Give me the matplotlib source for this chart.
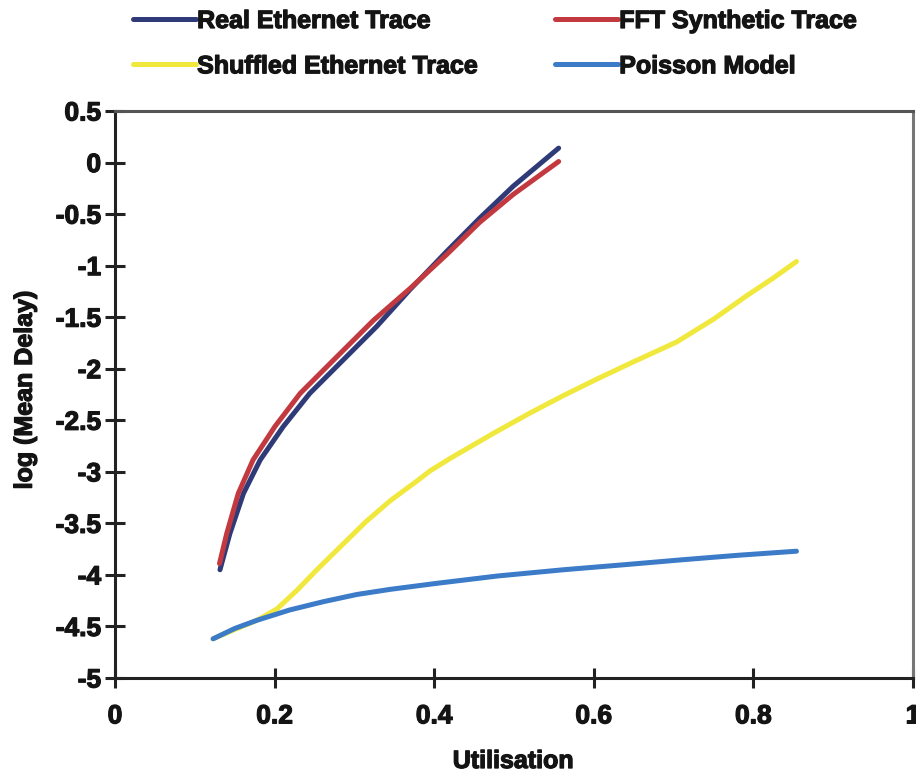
import matplotlib
matplotlib.use("Agg")
import matplotlib.pyplot as plt
import matplotlib.patheffects as pe

# utilisation vs log mean delay for each traffic source
real_x = [0.1316, 0.144, 0.161, 0.182, 0.211, 0.244, 0.286, 0.328, 0.370, 0.416, 0.457, 0.499, 0.556]
real_y = [-3.95, -3.60, -3.21, -2.885, -2.56, -2.24, -1.915, -1.59, -1.23, -0.86, -0.54, -0.23, 0.14]

fft_x = [0.131, 0.140, 0.1545, 0.173, 0.2005, 0.232, 0.274, 0.324, 0.370, 0.416, 0.457, 0.499, 0.556]
fft_y = [-3.89, -3.60, -3.21, -2.885, -2.56, -2.24, -1.915, -1.53, -1.22, -0.89, -0.58, -0.31, 0.01]

shuf_x = [0.123, 0.150, 0.178, 0.203, 0.228, 0.253, 0.282, 0.315, 0.345, 0.380, 0.395,
          0.420, 0.478, 0.520, 0.562, 0.604, 0.645, 0.704, 0.750, 0.792, 0.825, 0.854]
shuf_y = [-4.62, -4.53, -4.44, -4.33, -4.15, -3.95, -3.73, -3.48, -3.28, -3.08, -2.99,
          -2.87, -2.61, -2.43, -2.26, -2.10, -1.95, -1.74, -1.52, -1.29, -1.12, -0.96]

pois_x = [0.123, 0.150, 0.178, 0.219, 0.261, 0.303, 0.345, 0.405, 0.480, 0.562, 0.640, 0.708, 0.780, 0.854]
pois_y = [-4.62, -4.52, -4.44, -4.34, -4.26, -4.19, -4.14, -4.08, -4.01, -3.95, -3.90, -3.855, -3.81, -3.77]

labels = ["Real Ethernet Trace", "FFT Synthetic Trace", "Shuffled Ethernet Trace", "Poisson Model"]
colors = ["#2f3b78", "#c23a3f", "#f0e83c", "#3c7bc8"]

xticks = [0, 0.2, 0.4, 0.6, 0.8, 1]
xticklabels = ["0", "0.2", "0.4", "0.6", "0.8", "1"]
yticks = [0.5, 0, -0.5, -1, -1.5, -2, -2.5, -3, -3.5, -4, -4.5, -5]
yticklabels = ["0.5", "0", "-0.5", "-1", "-1.5", "-2", "-2.5", "-3", "-3.5", "-4", "-4.5", "-5"]

plt.rcParams["font.family"] = ["Liberation Sans", "DejaVu Sans"]
plt.rcParams["font.weight"] = "bold"
ink = "#141414"
heavy = [pe.withStroke(linewidth=0.9, foreground=ink)]

fig = plt.figure(figsize=(9.16, 7.73), dpi=100)
ax = fig.add_axes([0.1255, 0.1229, 0.8712, 0.7335])

lw = 3.6
line_kw = dict(lw=lw, solid_capstyle="round", solid_joinstyle="round")
h_real, = ax.plot(real_x, real_y, color=colors[0], **line_kw)
h_fft, = ax.plot(fft_x, fft_y, color=colors[1], **line_kw)
h_shuf, = ax.plot(shuf_x, shuf_y, color=colors[2], **line_kw)
h_pois, = ax.plot(pois_x, pois_y, color=colors[3], **line_kw)

ax.set_xlim(0, 1)
ax.set_ylim(-5, 0.5)
ax.set_xticks(xticks)
ax.set_xticklabels(xticklabels)
ax.set_yticks(yticks)
ax.set_yticklabels(yticklabels)
ax.tick_params(axis="both", direction="inout", length=14, width=2.2,
               color="#222222", labelsize=19, labelcolor=ink)
ax.tick_params(axis="y", pad=3)
ax.tick_params(axis="x", pad=12)
for lab in ax.get_xticklabels() + ax.get_yticklabels():
    lab.set_path_effects(heavy)
for side in ["left", "bottom", "top", "right"]:
    ax.spines[side].set_linewidth(2.2)
    ax.spines[side].set_color("#222222")
ax.spines["top"].set_color("#555555")
ax.spines["right"].set_color("#777777")

fig.text(0.560, 0.0155, "Utilisation", ha="center", va="center",
         fontsize=18, fontweight="bold", color=ink, path_effects=heavy)
fig.text(0.027, 0.4955, "log (Mean Delay)", ha="center", va="center", rotation=90,
         fontsize=18, fontweight="bold", color=ink, path_effects=heavy)

leg = fig.legend([h_real, h_shuf, h_fft, h_pois],
                 [labels[0], labels[2], labels[1], labels[3]],
                 ncol=2, loc="upper left", bbox_to_anchor=(0.1265, 1.011),
                 frameon=False, prop={"size": 18, "weight": "bold"},
                 handlelength=2.5, handletextpad=0.05,
                 columnspacing=3.1, labelspacing=0.85, borderpad=0.2)
for t in leg.get_texts():
    t.set_color(ink)
    t.set_path_effects(heavy)

fig.savefig("out.png", dpi=100, facecolor="white")
